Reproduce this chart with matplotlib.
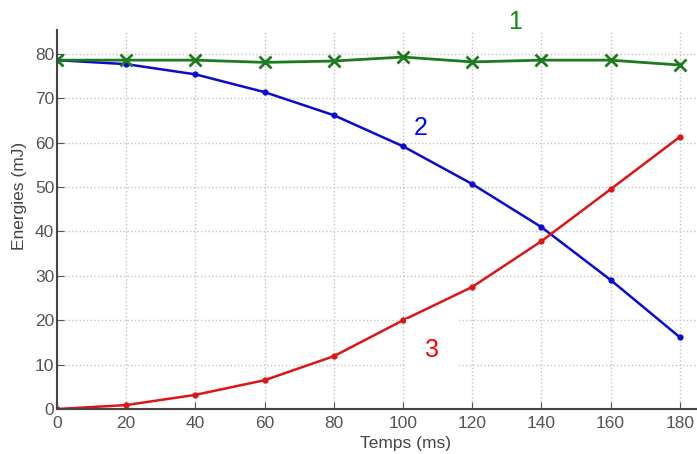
import matplotlib.pyplot as plt

plt.rcParams['font.family'] = ['Liberation Sans', 'DejaVu Sans']

temps = [0, 20, 40, 60, 80, 100, 120, 140, 160, 180]
e_totale = [78.6, 78.6, 78.6, 78.1, 78.4, 79.3, 78.2, 78.6, 78.6, 77.5]
e_pot = [78.6, 77.7, 75.4, 71.4, 66.2, 59.2, 50.7, 41.0, 29.1, 16.2]
e_cin = [0.0, 0.9, 3.2, 6.5, 11.9, 20.0, 27.5, 37.8, 49.5, 61.3]

xticks = [0, 20, 40, 60, 80, 100, 120, 140, 160, 180]
yticks = [0, 10, 20, 30, 40, 50, 60, 70, 80]

fig = plt.figure(figsize=(6.97, 4.54), dpi=100)
ax = fig.add_axes([0.0818, 0.099, 0.9182, 0.835])

# courbes
ax.plot(temps, e_pot, color='#0a0ad0', lw=1.8, marker='.', ms=7)
ax.plot(temps, e_cin, color='#dd1515', lw=1.8, marker='.', ms=7)
ax.plot(temps, e_totale, color='#1e7a1e', lw=2, marker='x', ms=9, mew=2)

ax.set_xlim(0, 185)
ax.set_ylim(0, 85.4)
ax.set_xticks(xticks)
ax.set_yticks(yticks)
ax.grid(True, linestyle=':', color='#c4c4c4', lw=1)
ax.tick_params(direction='in', labelsize=12.5, colors='#555555', length=5)
ax.tick_params(axis='x', pad=5)
ax.tick_params(axis='y', pad=2)
for s in ['top', 'right']:
    ax.spines[s].set_visible(False)
for s in ['left', 'bottom']:
    ax.spines[s].set_color('#444444')
    ax.spines[s].set_linewidth(1.5)

ax.set_xlabel('Temps (ms)', fontsize=12.5, color='#444444')
ax.set_ylabel('Energies (mJ)', fontsize=12.5, color='#444444')
ax.xaxis.set_label_coords(0.545, -0.07)
ax.yaxis.set_label_coords(-0.047, 0.562)

# numeros des courbes
ax.text(132.5, 87.2, '1', color='#138a13', fontsize=18, ha='center', va='center', clip_on=False)
ax.text(105, 63.3, '2', color='#0000ff', fontsize=18, ha='center', va='center')
ax.text(108.5, 13.3, '3', color='#ff0000', fontsize=18, ha='center', va='center',
        bbox=dict(facecolor='white', edgecolor='none', pad=14))

plt.savefig('out.png', dpi=100)
